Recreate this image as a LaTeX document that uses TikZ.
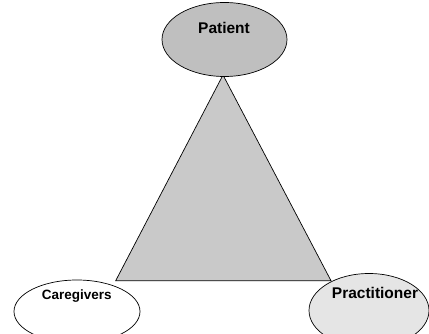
\documentclass[tikz,border=0pt]{standalone}
\usepackage{fontspec}
\setmainfont{Liberation Sans}
\usetikzlibrary{shapes.geometric}
\begin{document}
\begin{tikzpicture}[x=1pt,y=-1pt,
  oval/.style={ellipse,draw=black,line width=0.7pt,inner sep=0pt},
  lbl/.style={font=\fontsize{15.5}{18}\selectfont\bfseries,inner sep=0pt,anchor=base},
  lblsmall/.style={lbl,font=\fontsize{13.5}{16}\selectfont\bfseries}]
\useasboundingbox (0,0) rectangle (429,334);
\coordinate (ta) at (223,75);
\coordinate (tl) at (115.7,280.7);
\coordinate (tr) at (331,280.7);
\filldraw[fill=black!21,draw=black,line width=0.7pt] (ta) -- (tl) -- (tr) -- cycle;
\node[oval,fill=black!25,minimum width=125pt,minimum height=74pt] (patient) at (224.5,39.5) {};
\node[oval,fill=white,minimum width=126pt,minimum height=63pt] (care) at (77,311.5) {};
\node[oval,fill=black!10,minimum width=120pt,minimum height=74pt] (prac) at (369,310.5) {};
\node[lbl] (tp) at (224,33.3) {Patient};
\node[lblsmall] (tc) at (76.7,300) {Caregivers};
\node[lbl] (tpr) at (375,298.5) {Practitioner};
\end{tikzpicture}
\end{document}
